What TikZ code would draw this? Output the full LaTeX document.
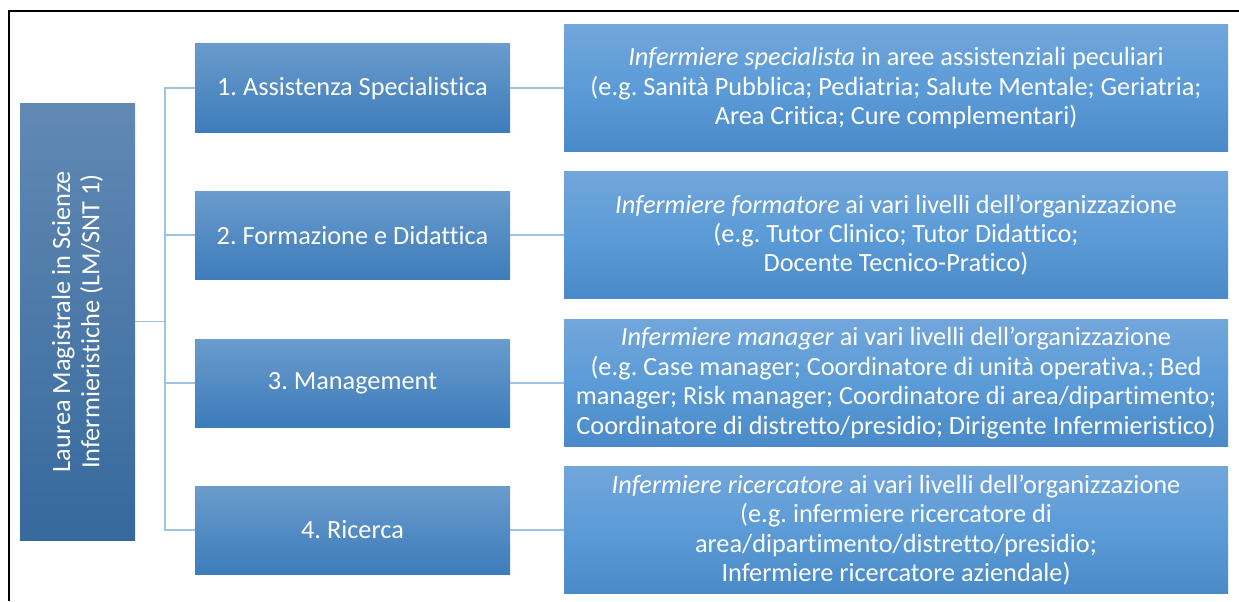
\documentclass[tikz,border=0pt]{standalone}
\usepackage{fontspec}
\setmainfont{Carlito}[Ligatures=NoCommon]
\usepackage{tikz}
\usetikzlibrary{positioning,calc}
\definecolor{degtop}{RGB}{97,137,180}
\definecolor{degbot}{RGB}{55,105,157}
\definecolor{areatop}{RGB}{106,155,204}
\definecolor{areabot}{RGB}{61,124,187}
\definecolor{roletop}{RGB}{114,166,219}
\definecolor{rolemid}{RGB}{91,155,215}
\definecolor{rolebot}{RGB}{74,138,200}
\definecolor{linkblue}{RGB}{157,195,230}
\frenchspacing

\begin{document}
\begin{tikzpicture}[
    font=\fontsize{18.7}{20.9}\selectfont,
    degree/.style={rotate=90, align=center, text=white,
        minimum width=10.925cm, minimum height=2.875cm,
        top color=degtop, bottom color=degbot},
    area/.style={align=center, text=white,
        minimum width=7.875cm, minimum height=2.2cm,
        top color=areatop, bottom color=areabot},
    role/.style={align=center, text=white, inner sep=0pt,
        minimum width=16.6cm, minimum height=3.175cm,
        top color=roletop, bottom color=rolebot, middle color=rolemid},
    link/.style={draw=linkblue, line width=1.4pt}
]
\useasboundingbox (0,0) rectangle (30.975,15.025);
% frame
\draw[line width=1.5pt] (0.225,0) -- (0.225,14.75) -- (30.975,14.75);

% degree box
\node[degree] (lm) at (1.9375,6.9875)
    {Laurea Magistrale in Scienze\\Infermieristiche (LM/SNT 1)};

% areas
\node[area] (area1) at (8.8125,12.825) {1. Assistenza Specialistica};
\node[area] (area2) at (8.8125,9.15) {2. Formazione e Didattica};
\node[area] (area3) at (8.8125,5.45) {3. Management};
\node[area] (area4) at (8.8125,1.775) {4. Ricerca};

% roles
\node[role] (role1) at (22.4,12.825)
    {\textit{Infermiere specialista} in aree assistenziali peculiari\\
     (e.g. Sanità Pubblica; Pediatria; Salute Mentale; Geriatria;\\
     Area Critica; Cure complementari)};
\node[role] (role2) at (22.4,9.15)
    {\textit{Infermiere formatore} ai vari livelli dell’organizzazione\\
     (e.g. Tutor Clinico; Tutor Didattico;\\
     Docente Tecnico-Pratico)};
\node[role] (role3) at (22.4,5.45)
    {\textit{Infermiere manager} ai vari livelli dell’organizzazione\\
     (e.g. Case manager; Coordinatore di unità operativa.; Bed\\
     manager; Risk manager; Coordinatore di area/dipartimento;\\
     Coordinatore di distretto/presidio; Dirigente Infermieristico)};
\node[role] (role4) at (22.4,1.775)
    {\textit{Infermiere ricercatore} ai vari livelli dell’organizzazione\\
     (e.g. infermiere ricercatore di\\
     area/dipartimento/distretto/presidio;\\
     Infermiere ricercatore aziendale)};

% connectors
\coordinate (fork) at ($(lm.south)+(0.75,0)$);
\draw[link] (lm.south) -- (fork);
\foreach \i in {1,...,4}{
    \draw[link] (fork) |- (area\i.west);
    \draw[link] (area\i.east) -- (role\i.west);
}
\end{tikzpicture}
\end{document}
